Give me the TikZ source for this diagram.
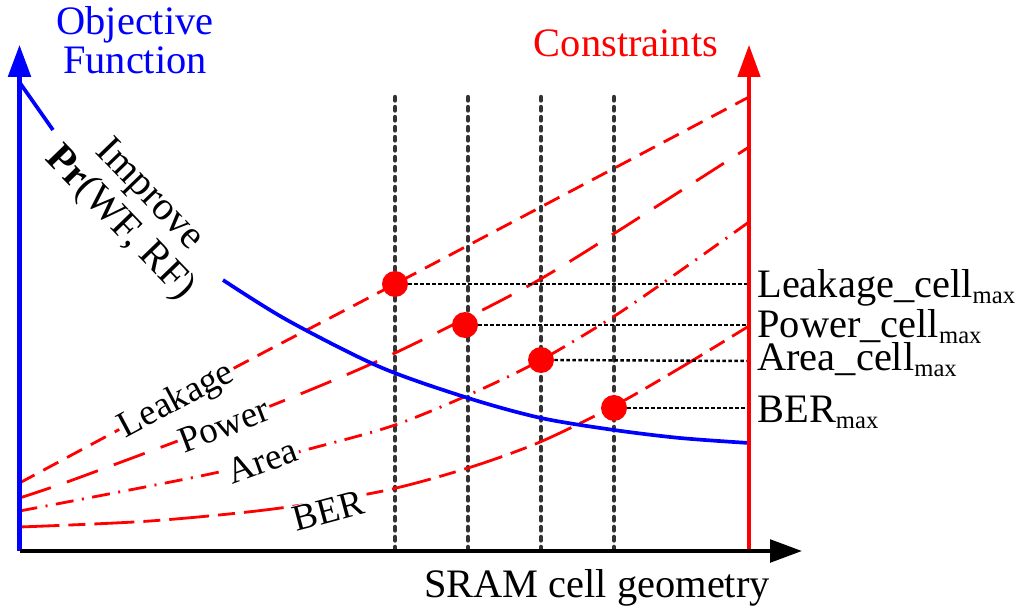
\documentclass[tikz,border=0pt]{standalone}
\usepackage{fontspec}
\setmainfont{Liberation Serif}
\usetikzlibrary{arrows.meta}
\newcommand{\submax}{\raisebox{-3.5pt}{\fontsize{14}{14}\selectfont max}}
\begin{document}
\begin{tikzpicture}[x=0.02cm,y=-0.02cm,
  big/.style={font=\fontsize{23}{23.5}\selectfont, inner sep=0pt},
  curvelbl/.style={font=\fontsize{21}{22}\selectfont, fill=white, inner sep=1pt},
  redcurve/.style={red, line width=1.6pt},
  vdots/.style={black!80, line width=2.5pt, line cap=round, dash pattern={on 0.07cm off 0.13cm}},
  hdots/.style={black, line width=1.4pt, dash pattern={on 0.07cm off 0.05cm}},
  dot/.style={circle, fill=red, minimum size=0.52cm, inner sep=0pt},
  axtip/.style={-{Triangle[length=0.64cm,width=0.45cm]}},
]
\useasboundingbox (0,0) rectangle (1024,615);

% coordinates on axes
\coordinate (o) at (19.5,551);
\coordinate (ytop) at (19.5,45);
\coordinate (xend) at (802,551);
\coordinate (rb) at (749,551);
\coordinate (rtop) at (749,45);
\foreach \x [count=\i] in {395,468,541,614} {
  \coordinate (vt\i) at (\x,97);
  \coordinate (vb\i) at (\x,551);
}
\coordinate (h1) at (749,284);
\coordinate (h2) at (749,325);
\coordinate (h3) at (749,361);
\coordinate (h4) at (749,408);

% vertical dotted lines
\foreach \i in {1,...,4} \draw[vdots] (vt\i) -- (vb\i);

% red constraint curves
\draw[redcurve, dash pattern={on 0.34cm off 0.2cm}] plot[smooth] coordinates
  {(19.5,483) (238,366) (395,284) (749,97)};
\draw[redcurve, dash pattern={on 0.66cm off 0.34cm}] plot[smooth] coordinates
  {(19.5,498) (67,482) (167,445) (273,405) (380,360) (502,300) (577,257) (749,147)};
\draw[redcurve, dash pattern={on 0.36cm off 0.17cm on 0.04cm off 0.17cm}] plot[smooth] coordinates
  {(19.5,511) (210,474) (313,448) (395,425) (473,393) (541,360) (613,317) (680,271) (749,222)};
\draw[redcurve, dash pattern={on 0.8cm off 0.18cm on 0.34cm off 0.18cm}] plot[smooth] coordinates
  {(19.5,527) (150,521) (273,509) (383,491) (468,468) (540,442) (614,406) (680,368) (749,326)};

% blue objective curve
\draw[blue, line width=2.1pt] (20,83) -- (53,130);
\draw[blue, line width=2.1pt] plot[smooth] coordinates
  {(223,280) (287,320) (380,367) (468,398) (541,418) (614,430) (680,438) (749,443)};

% constraint dots and horizontal dotted lines
\node[dot] (d1) at (395,284) {};
\node[dot] (d2) at (465,325) {};
\node[dot] (d3) at (541,360) {};
\node[dot] (d4) at (614,408) {};
\draw[hdots] (d1.east) -- (h1);
\draw[hdots] (d2.east) -- (h2);
\draw[hdots] (d3.east) -- (h3);
\draw[hdots] (d4.east) -- (h4);

% axes
\draw[blue, line width=2.3pt, axtip] (o) -- (ytop);
\draw[red, line width=1.8pt, axtip] (rb) -- (rtop);
\draw[black, line width=2.3pt, axtip] (o) -- (xend);

% curve labels
\node[curvelbl, rotate=28] (lk) at (177,401) {Leakage};
\node[curvelbl, rotate=21] (pw) at (224,425) {Power};
\node[curvelbl, rotate=20] (ar) at (262,461) {Area};
\node[curvelbl, rotate=15] (be) at (328,511) {BER};

% texts
\node[big, blue, anchor=base] (obj1) at (135,35) {Objective};
\node[big, blue, anchor=base] (obj2) at (135,74) {Function};
\node[big, red, anchor=base] (con) at (626,57) {Constraints};
\node[big, anchor=base] (xl) at (597,597) {SRAM cell geometry};
\node[big, align=center, rotate=-46] (imp) at (134,210) {Improve\\\textbf{Pr}(WF, RF)};

\node[big, anchor=base west] (l1) at (757,297) {Leakage\_cell\submax};
\node[big, anchor=base west] (l2) at (757,337) {Power\_cell\submax};
\node[big, anchor=base west] (l3) at (757,370) {Area\_cell\submax};
\node[big, anchor=base west] (l4) at (757,422) {BER\submax};
\end{tikzpicture}
\end{document}
